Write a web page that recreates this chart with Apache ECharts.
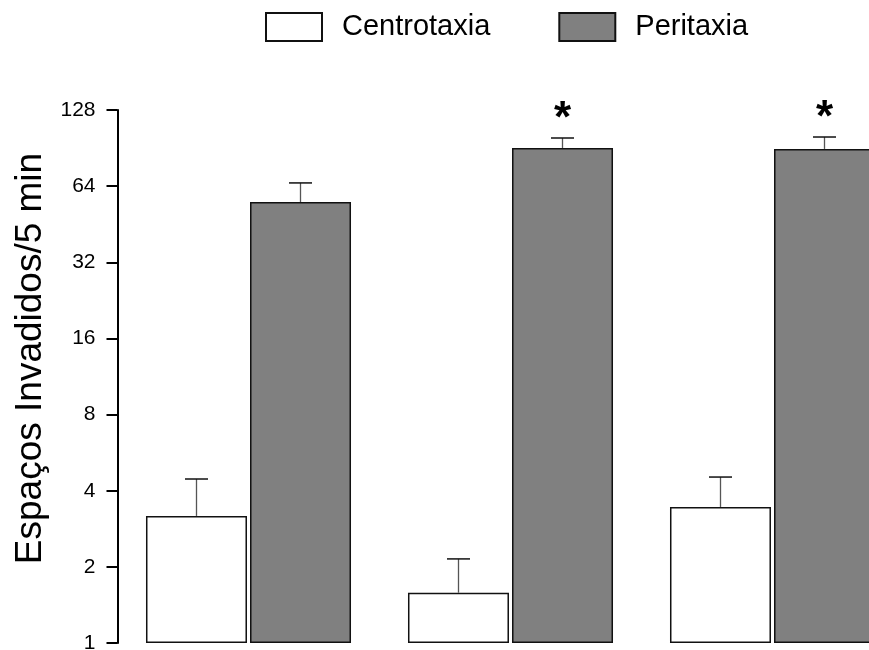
<!DOCTYPE html>
<html>
<head>
<meta charset="utf-8">
<style>
  html, body { margin: 0; padding: 0; background: #fff; }
  #chart { width: 869px; height: 650px; }
</style>
<script src="https://cdn.jsdelivr.net/npm/echarts@6/dist/echarts.min.js"></script>
</head>
<body>
<div id="chart"></div>
<script>
// Groups along the x axis (no labels drawn)
const groups = ['G1', 'G2', 'G3'];
// Mean number of invaded spaces per 5 min
const centrotaxia = [3.18, 1.58, 3.45];
const peritaxia = [55.4, 90.6, 89.8];
// Upper end of each error bar (mean + SEM)
const centrotaxiaUpper = [4.45, 2.15, 4.53];
const peritaxiaUpper = [65.9, 99.2, 100.1];
// Significance markers on the Peritaxia bars
const peritaxiaMarks = ['', '*', '*'];
const yTicks = [1, 2, 4, 8, 16, 32, 64, 128];

const FONT = '"Liberation Sans", Arial, sans-serif';
const BAR_W = 101;
const HALF_STEP = 52;

function errorSeries(name, upper, means, sign, marks) {
  return {
    type: 'custom',
    name: name + ' err',
    z: 5,
    silent: true,
    data: groups.map((g, i) => [i, means[i], upper[i]]),
    renderItem: function (params, api) {
      const i = api.value(0);
      const top = api.coord([i, api.value(1)]);
      const hi = api.coord([i, api.value(2)]);
      const x = top[0] + sign * HALF_STEP;
      const children = [
        { type: 'line', shape: { x1: x, y1: top[1], x2: x, y2: hi[1] },
          style: { stroke: '#555', lineWidth: 1.3 } },
        { type: 'line', shape: { x1: x - 11.5, y1: hi[1], x2: x + 11.5, y2: hi[1] },
          style: { stroke: '#111', lineWidth: 1.5 } }
      ];
      const mark = marks ? marks[params.dataIndex] : '';
      if (mark) {
        children.push({
          type: 'text',
          style: { x: x, y: hi[1] + 4, text: mark, fill: '#000',
            font: 'bold 44px ' + FONT, textAlign: 'center', textVerticalAlign: 'bottom' }
        });
      }
      return { type: 'group', children: children };
    }
  };
}

const chart = echarts.init(document.getElementById('chart'));
chart.setOption({
  animation: false,
  backgroundColor: '#fff',
  textStyle: { fontFamily: FONT },
  legend: {
    top: 7,
    left: 260,
    itemWidth: 56,
    itemHeight: 28,
    itemGap: 68,
    icon: 'rect',
    selectedMode: false,
    textStyle: { fontSize: 29, color: '#000', fontFamily: FONT, padding: [0, 0, 0, 15] },
    data: ['Centrotaxia', 'Peritaxia']
  },
  grid: { left: 117.5, width: 786, top: 110, bottom: 7, containLabel: false, outerBoundsMode: 'none' },
  xAxis: {
    type: 'category',
    data: groups,
    axisLine: { show: false },
    axisTick: { show: false },
    axisLabel: { show: false },
    splitLine: { show: false }
  },
  yAxis: {
    type: 'log',
    logBase: 2,
    min: 1,
    max: 128,
    interval: 1,
    name: 'Espaços Invadidos/5 min',
    nameLocation: 'middle',
    nameGap: 66,
    nameTextStyle: { fontSize: 37, color: '#000', fontFamily: FONT, padding: [0, 0, 0, 36] },
    axisLine: { show: true, lineStyle: { color: '#000', width: 2 } },
    axisTick: { show: true, length: 11, lineStyle: { color: '#000', width: 2 } },
    axisLabel: { fontSize: 21, color: '#000', margin: 22, fontFamily: FONT },
    splitLine: { show: false }
  },
  series: [
    {
      name: 'Centrotaxia',
      type: 'bar',
      barWidth: BAR_W,
      barGap: '3%',
      data: centrotaxia,
      itemStyle: { color: '#fff', borderColor: '#111', borderWidth: 1.5 }
    },
    {
      name: 'Peritaxia',
      type: 'bar',
      barWidth: BAR_W,
      barGap: '3%',
      data: peritaxia,
      itemStyle: { color: '#808080', borderColor: '#111', borderWidth: 1.5 }
    },
    errorSeries('Centrotaxia', centrotaxiaUpper, centrotaxia, -1, null),
    errorSeries('Peritaxia', peritaxiaUpper, peritaxia, 1, peritaxiaMarks)
  ]
});
</script>
</body>
</html>
